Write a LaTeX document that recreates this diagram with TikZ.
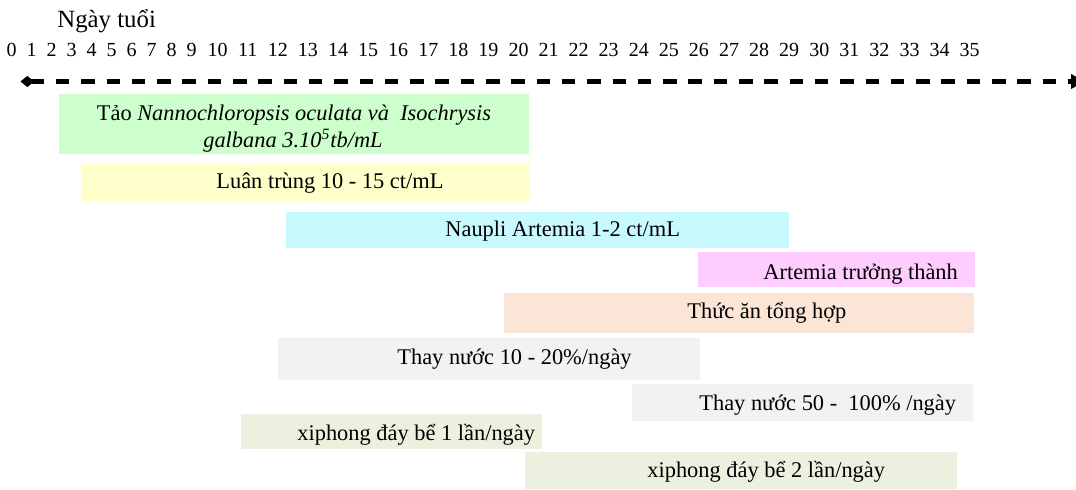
\documentclass[tikz,border=0pt]{standalone}
\usepackage{fontspec}
\setmainfont{Liberation Serif}
\usetikzlibrary{arrows.meta}
\definecolor{cGreen}{HTML}{CCFFCC}
\definecolor{cYellow}{HTML}{FFFFCC}
\definecolor{cCyan}{HTML}{C8F9FF}
\definecolor{cPink}{HTML}{FFCCFF}
\definecolor{cPeach}{HTML}{FBE5D6}
\definecolor{cGray}{HTML}{F2F2F2}
\definecolor{cOlive}{HTML}{EBF1DE}
\begin{document}
\begin{tikzpicture}[x=0.5pt,y=-0.5pt,
  lbl/.style={anchor=base west, inner sep=0pt, font=\fontsize{11.2}{13.5}\selectfont},
  clbl/.style={anchor=base, inner sep=0pt, font=\fontsize{11.2}{13.5}\selectfont},
  num/.style={anchor=base, inner sep=0pt, font=\fontsize{10}{12}\selectfont},
  axisline/.style={line width=2.2pt, dash pattern=on 6.75pt off 5.9pt,
    {Diamond[length=6.8pt,width=5.6pt]}-{Triangle[length=7pt,width=7pt]}}]
\useasboundingbox (0,0) rectangle (1076,489);

% title and day numbers
\node[anchor=base west, inner sep=0pt, font=\fontsize{12.4}{14}\selectfont] (title) at (57,27.6) {Ngày tuổi};
\foreach \i in {0,...,9} {
  \node[num] (n\i) at ({11.7+20*\i},56.7) {\i};
}
\foreach \i in {10,...,35} {
  \node[num] (n\i) at ({217.7+30.08*(\i-10)},56.7) {\i};
}

% time axis
\coordinate (axL) at (20.5,81.5);
\coordinate (axR) at (1085,81.5);
\draw[axisline] (axL) -- (axR);

% bars
\fill[cGreen]  (59,94)   rectangle (529,154);
\fill[cYellow] (81,163)  rectangle (530,201);
\fill[cCyan]   (286,212) rectangle (789,248);
\fill[cPink]   (698,252) rectangle (975,287);
\fill[cPeach]  (504,293) rectangle (974,333);
\fill[cGray]   (278,338) rectangle (700,380);
\fill[cGray]   (632,384) rectangle (973,421);
\fill[cOlive]  (241,414) rectangle (542,449);
\fill[cOlive]  (525,452) rectangle (957,489);

% labels
\node[clbl] (tao1) at (294,120)
  {Tảo \textit{Nannochloropsis oculata và\ \ Isochrysis}};
\node[clbl] (tao2) at (293,147)
  {\textit{galbana 3.10\textsuperscript{5}tb/mL}};
\node[lbl] (luan) at (216,188) {Luân trùng 10 - 15 ct/mL};
\node[lbl] (naupli) at (445,236) {Naupli Artemia 1-2 ct/mL};
\node[lbl] (artemia) at (763,279) {Artemia trưởng thành};
\node[lbl] (thucan) at (687,318) {Thức ăn tổng hợp};
\node[lbl] (thay1) at (397,364) {Thay nước 10 - 20\%/ngày};
\node[lbl] (thay2) at (699,410) {Thay nước 50 -\ \ 100\% /ngày};
\node[lbl] (xi1) at (297,440) {xiphong đáy bể 1 lần/ngày};
\node[lbl] (xi2) at (647,477) {xiphong đáy bể 2 lần/ngày};
\end{tikzpicture}
\end{document}
